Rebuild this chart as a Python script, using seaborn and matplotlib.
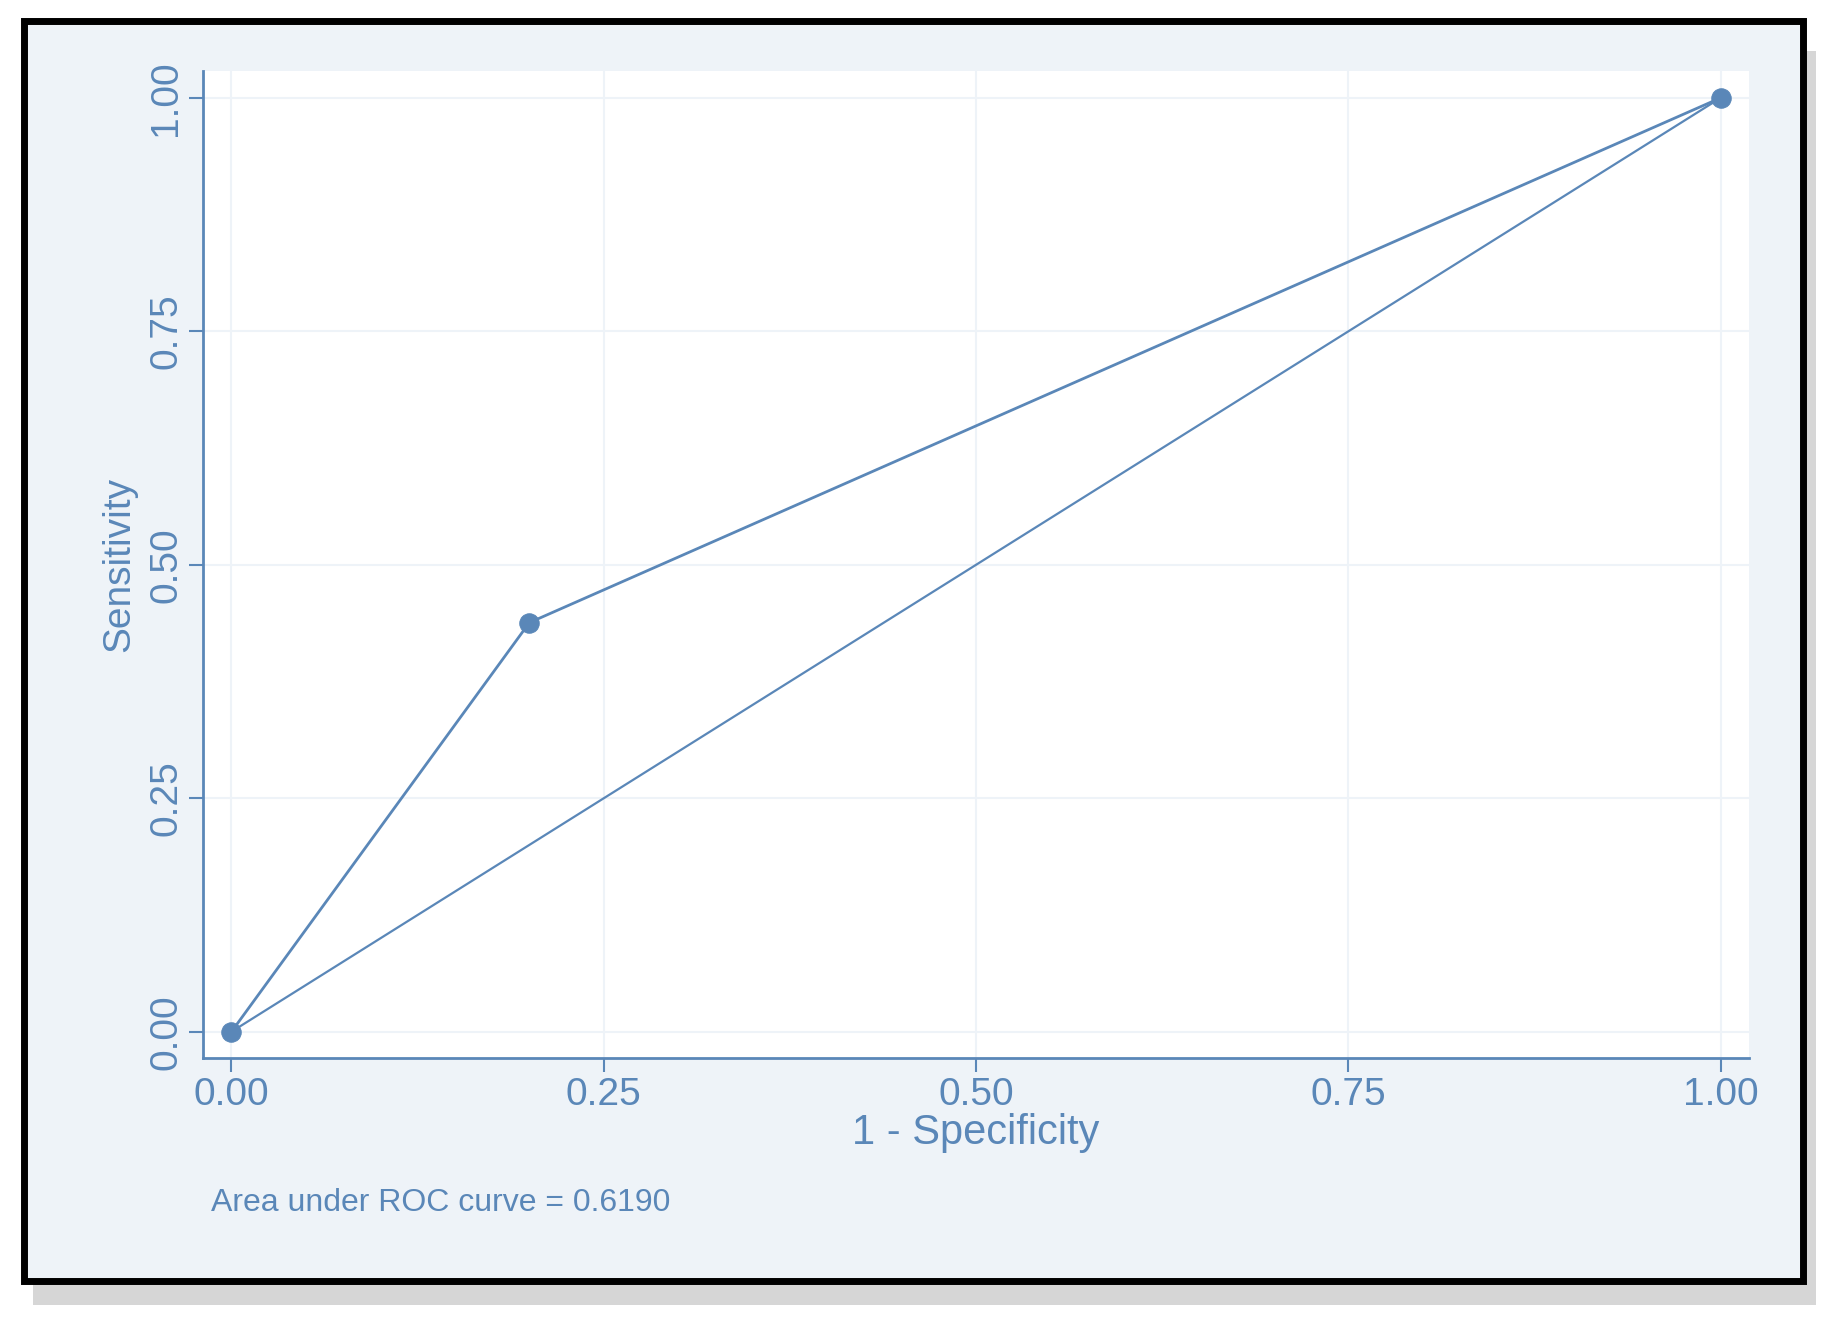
import matplotlib
matplotlib.use('Agg')
import matplotlib.pyplot as plt
import matplotlib.patches as patches
import seaborn as sns
import pandas as pd

# ROC points
fpr = [0.0, 0.2, 1.0]
tpr = [0.0, 0.438, 1.0]
ref_x = [0.0, 1.0]
ref_y = [0.0, 1.0]
ticks = [0.0, 0.25, 0.5, 0.75, 1.0]
tick_labels = ['0.00', '0.25', '0.50', '0.75', '1.00']
auc_text = 'Area under ROC curve = 0.6190'

blue = '#5a87b8'
bg = '#eef3f8'

sns.set_style('white')
plt.rcParams['font.family'] = ['Liberation Sans', 'DejaVu Sans']

fig = plt.figure(figsize=(18.47, 13.34), dpi=100)
fig.patch.set_facecolor('white')

# shadow + black frame
fig.patches.append(patches.Rectangle((0.018, 0.022), 0.965, 0.94, transform=fig.transFigure,
                                     facecolor='#bbbbbb', edgecolor='none', alpha=0.6, zorder=0))
fig.patches.append(patches.Rectangle((0.013, 0.04), 0.963, 0.944, transform=fig.transFigure,
                                     facecolor=bg, edgecolor='black', linewidth=5, zorder=1))

ax = fig.add_axes([0.110, 0.207, 0.837, 0.740])
ax.set_facecolor('white')
ax.set_zorder(2)

df = pd.DataFrame({'fpr': fpr, 'tpr': tpr})
sns.lineplot(data=df, x='fpr', y='tpr', ax=ax, color=blue, linewidth=2, marker='o',
             markersize=14, markeredgecolor=blue, zorder=3)
sns.lineplot(x=ref_x, y=ref_y, ax=ax, color=blue, linewidth=1.6, zorder=2)

ax.set_xlim(-0.019, 1.019)
ax.set_ylim(-0.028, 1.029)
ax.set_xticks(ticks)
ax.set_xticklabels(tick_labels)
ax.set_yticks(ticks)
ax.set_yticklabels(tick_labels, rotation=90, va='center')
ax.grid(True, color='#eef3f8', linewidth=1.5)
ax.tick_params(axis='both', colors=blue, labelcolor=blue, labelsize=28, length=10, width=1.5,
               direction='out', bottom=True, left=True)
for s in ['top', 'right']:
    ax.spines[s].set_visible(False)
for s in ['bottom', 'left']:
    ax.spines[s].set_color(blue)
    ax.spines[s].set_linewidth(2)
ax.set_xlabel('1 - Specificity', color=blue, fontsize=30, labelpad=0)
ax.set_ylabel('Sensitivity', color=blue, fontsize=28, labelpad=8)

fig.text(0.114, 0.092, auc_text, color=blue, fontsize=23, zorder=5)

fig.savefig('out.png', dpi=100)
